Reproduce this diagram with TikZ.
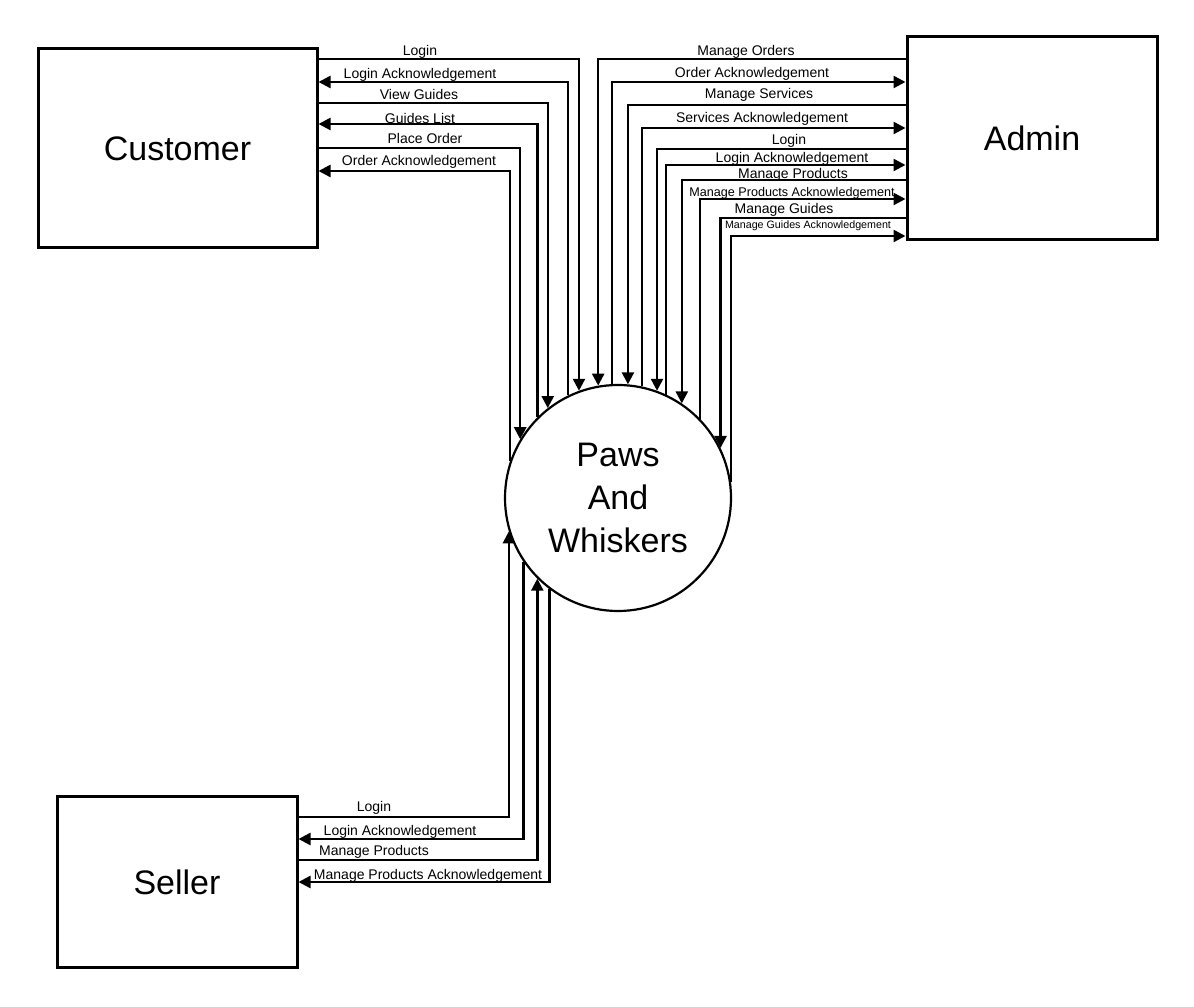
\documentclass[tikz,border=0pt]{standalone}
\usepackage{fontspec}
\setmainfont{Liberation Sans}
\usetikzlibrary{arrows.meta}

\begin{document}
\begin{tikzpicture}[>={Triangle[length=6bp,width=6bp]},line join=miter,
  entity/.style={draw,line width=1.5bp,inner sep=0pt,font=\fontsize{17bp}{21.5bp}\selectfont},
  process/.style={draw,circle,line width=1.1bp,minimum size=113bp,inner sep=0pt,align=center,font=\fontsize{17bp}{21.5bp}\selectfont},
  flow/.style={black,line width=1.2bp},
  lbl/.style={inner sep=0pt,font=\fontsize{7bp}{8bp}\selectfont},
]
\fill[white] (0bp,0bp) rectangle (597bp,503.5bp);
\useasboundingbox (0bp,0bp) rectangle (597bp,503.5bp);
%%
\node (customer) at (88.75bp,429.25bp) [entity,minimum width=139.5bp,minimum height=99.5bp] {Customer};
\node (admin) at (516bp,434.25bp) [entity,minimum width=125bp,minimum height=101.5bp] {Admin};
\node (seller) at (88.5bp,62.25bp) [entity,minimum width=120bp,minimum height=85.5bp] {Seller};
\node (sys) at (309bp,254.5bp) [process] {Paws\\And\\Whiskers};
%% customer flows
\draw [flow,->] (customer.east |- 0bp,474bp) -| (sys.110.7);
\draw [flow,<-] (customer.east |- 0bp,462.5bp) -| (sys.116.8);
\draw [flow,->] (customer.east |- 0bp,452bp) -| (sys.128.3);
\draw [flow,<-] (customer.east |- 0bp,441.5bp) -| (sys.135.8);
\draw [flow,->] (customer.east |- 0bp,429.5bp) -| (sys.149.1);
\draw [flow,<-] (customer.east |- 0bp,418bp) -| (sys.161.2);
\node (cLogin) at (210bp,477.5bp) [lbl] {Login};
\node (cLoginAck) at (210bp,466bp) [lbl] {Login Acknowledgement};
\node (cViewGuides) at (209.5bp,456bp) [lbl] {View Guides};
\node (cGuidesList) at (210bp,444bp) [lbl] {Guides List};
\node (cPlaceOrder) at (212.5bp,434bp) [lbl] {Place Order};
\node (cOrderAck) at (209.5bp,422.5bp) [lbl] {Order Acknowledgement};
%% admin flows
\draw [flow,->] (admin.west |- 0bp,474bp) -| (sys.100.7);
\draw [flow,<-] (admin.west |- 0bp,462.5bp) -| (sys.93.0);
\draw [flow,->] (admin.west |- 0bp,451bp) -| (sys.85.4);
\draw [flow,<-] (admin.west |- 0bp,439.5bp) -| (sys.78.8);
\draw [flow,->] (admin.west |- 0bp,429bp) -| (sys.70.9);
\draw [flow,<-] (admin.west |- 0bp,421bp) -| (sys.65.4);
\draw [flow,->] (admin.west |- 0bp,413.5bp) -| (sys.56.1);
\draw [flow,<-] (admin.west |- 0bp,404bp) -| (sys.44.9);
\draw [flow,->] (admin.west |- 0bp,394.5bp) -| (sys.26.6);
\draw [flow,<-] (admin.west |- 0bp,385.5bp) -| (sys.8);
\node (aManageOrders) at (373bp,477.5bp) [lbl] {Manage Orders};
\node (aOrderAck) at (376bp,466.5bp) [lbl] {Order Acknowledgement};
\node (aManageServices) at (379.5bp,456bp) [lbl] {Manage Services};
\node (aServicesAck) at (381bp,444bp) [lbl] {Services Acknowledgement};
\node (aLogin) at (394.5bp,433bp) [lbl] {Login};
\node (aLoginAck) at (396bp,424bp) [lbl] {Login Acknowledgement};
\node (aManageProducts) at (396.5bp,416bp) [lbl] {Manage Products};
\node (aProductsAck) at (396bp,407bp) [lbl,font=\fontsize{6.3bp}{7bp}\selectfont] {Manage Products Acknowledgement};
\node (aManageGuides) at (392bp,398.5bp) [lbl] {Manage Guides};
\node (aGuidesAck) at (404bp,390.5bp) [lbl,font=\fontsize{5.35bp}{6bp}\selectfont] {Manage Guides Acknowledgement};
%% seller flows
\draw [flow,->] (seller.east |- 0bp,95bp) -| (sys.197.1);
\draw [flow,<-] (seller.east |- 0bp,84bp) -| (sys.214.6);
\draw [flow,->] (seller.east |- 0bp,73.5bp) -| (sys.225.1);
\draw [flow,<-] (seller.east |- 0bp,62.5bp) -| (sys.233.0);
\node (sLogin) at (187bp,99.5bp) [lbl] {Login};
\node (sLoginAck) at (200bp,87.5bp) [lbl] {Login Acknowledgement};
\node (sManageProducts) at (187bp,77.5bp) [lbl] {Manage Products};
\node (sProductsAck) at (214bp,65.5bp) [lbl] {Manage Products Acknowledgement};
%
\end{tikzpicture}
\end{document}
